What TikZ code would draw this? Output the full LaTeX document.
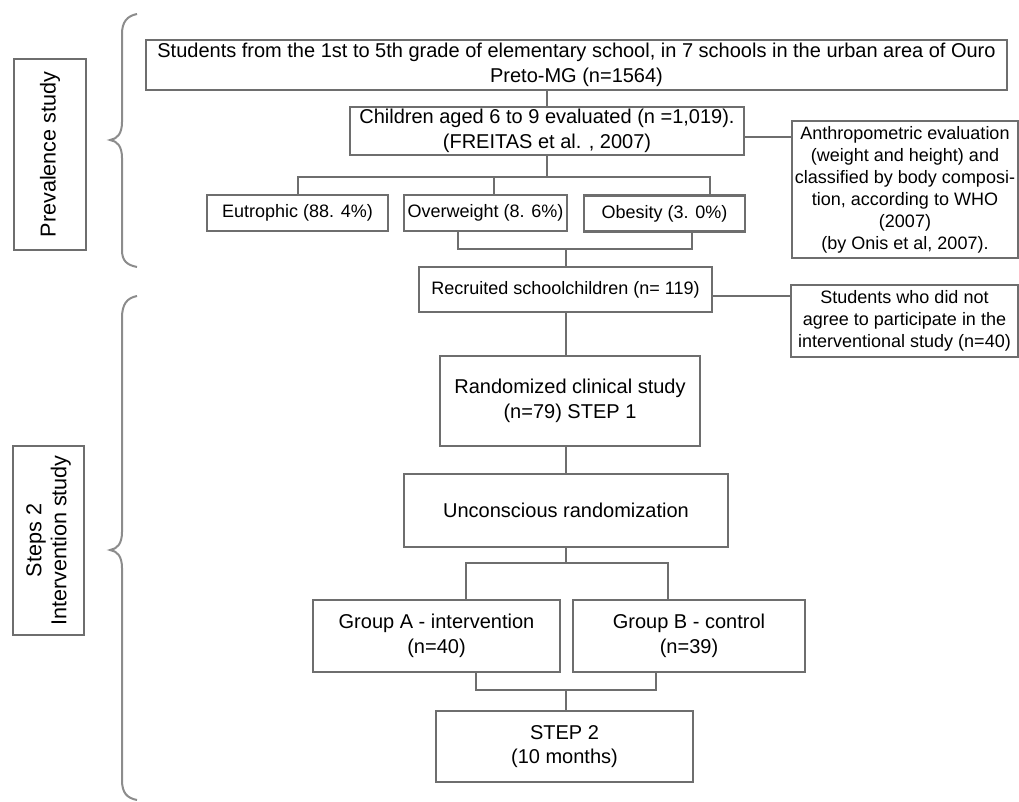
\documentclass[tikz,border=0pt]{standalone}
\usepackage{fontspec}
\setmainfont{Liberation Sans}
\usetikzlibrary{positioning, calc}
\definecolor{edge}{HTML}{6e6e6e}
\definecolor{brc}{HTML}{8c8c8c}

\begin{document}
\begin{tikzpicture}[
  x=0.5pt, y=-0.5pt,
  box/.style={draw=edge, line width=1.2pt, fill=white, align=center, inner sep=1pt,
              font=\fontsize{10}{12.2}\selectfont},
  sbox/.style={box, font=\fontsize{9}{11}\selectfont},
  side/.style={box, rotate=90, font=\fontsize{10.8}{12.5}\selectfont},
  conn/.style={draw=edge, line width=1.2pt},
  curly/.style={draw=brc, line width=1pt}
]
  \useasboundingbox (0,0) rectangle (1019,802);

  % left labels and braces
  \node[side, minimum width=191*0.5pt, minimum height=72*0.5pt] (prev) at (50,154.5) {Prevalence study};
  \node[side, minimum width=189*0.5pt, minimum height=71*0.5pt] (interv) at (48.5,540.5) {Steps 2\\Intervention study};
  \draw[curly] (137,14) .. controls (127,16) and (122,22) .. (122,34) -- (122,122)
    .. controls (122,134) and (117,139) .. (110,140) .. controls (117,141) and (122,146) .. (122,158)
    -- (122,250) .. controls (122,261) and (127,265) .. (137,267);
  \draw[curly] (137,296) .. controls (127,298) and (122,304) .. (122,318) -- (122,532)
    .. controls (122,544) and (117,549) .. (110,550) .. controls (117,551) and (122,556) .. (122,568)
    -- (122,780) .. controls (122,793) and (127,798) .. (137,800);

  % prevalence part
  \node[box, minimum width=861*0.5pt, minimum height=50*0.5pt] (top) at (576.5,65)
    {Students from the 1st to 5th grade of elementary school, in 7 schools in the urban area of Ouro\\Preto-MG (n=1564)};
  \node[box, minimum width=394*0.5pt, minimum height=48*0.5pt] (child) at (547,131)
    {Children aged 6 to 9 evaluated (n =1,019).\\(FREITAS et al. , 2007)};
  \node[sbox, minimum width=181*0.5pt, minimum height=36*0.5pt] (eut) at (297.5,213) {Eutrophic (88. 4\%)};
  \node[sbox, minimum width=163*0.5pt, minimum height=36*0.5pt] (over) at (485.5,213) {Overweight (8. 6\%)};
  \node[sbox, minimum width=161*0.5pt, minimum height=36*0.5pt] (obes) at (664.5,213.5) {Obesity (3. 0\%)};
  \node[sbox, minimum width=226*0.5pt, minimum height=137*0.5pt] (anthro) at (905,189.5)
    {Anthropometric evaluation\\(weight and height) and\\classified by body composi-\\tion, according to WHO\\(2007)\\(by Onis et al, 2007).};

  % intervention part
  \node[sbox, minimum width=293*0.5pt, minimum height=45*0.5pt] (recr) at (565.5,289.5) {Recruited schoolchildren (n= 119)};
  \node[sbox, minimum width=227*0.5pt, minimum height=72*0.5pt] (notag) at (904.5,321)
    {Students who did not\\agree to participate in the\\interventional study (n=40)};
  \node[box, minimum width=260*0.5pt, minimum height=90*0.5pt] (rand) at (570,401)
    {Randomized clinical study\\(n=79) STEP 1};
  \node[box, minimum width=324*0.5pt, minimum height=73*0.5pt] (uncon) at (566,510.5) {Unconscious randomization};
  \node[box, minimum width=247*0.5pt, minimum height=72*0.5pt] (grpa) at (436.5,636)
    {Group A - intervention\\(n=40)};
  \node[box, minimum width=232*0.5pt, minimum height=72*0.5pt] (grpb) at (689,636)
    {Group B - control\\(n=39)};
  \node[box, minimum width=257*0.5pt, minimum height=71*0.5pt] (step) at (564.5,746.5)
    {STEP 2\\(10 months)};

  % junction points
  \coordinate (busl) at (298,177);
  \coordinate (busm) at (494,177);
  \coordinate (busr) at (710,177);
  \coordinate (mrgl) at (458,249);
  \coordinate (mrgr) at (692,249);
  \coordinate (mrgc) at (566,249);
  \coordinate (splc) at (566,563);
  \coordinate (spll) at (466,563);
  \coordinate (splr) at (668,563);
  \coordinate (jnl) at (476,690);
  \coordinate (jnr) at (656,690);
  \coordinate (jnc) at (566,690);

  \draw[conn] (child.north) -- (child.north |- top.south);
  \draw[conn] (child.south) -- (child.south |- busl);
  \draw[conn] (busl |- eut.north) -- (busl) -- (busr) -- (busr |- obes.north);
  \draw[conn] (busm) -- (busm |- over.north);
  \draw[conn] (mrgl |- over.south) -- (mrgl) -- (mrgr) -- (mrgr |- obes.south);
  \draw[conn] (mrgc) -- (mrgc |- recr.north);
  \draw[conn] ($(child.east)+(0,6)$) -- ($(child.east -| anthro.west)+(0,6)$);
  \draw[conn] ($(recr.east)+(0,6.5)$) -- ($(recr.east -| notag.west)+(0,6.5)$);
  \draw[conn] (mrgc |- recr.south) -- (mrgc |- rand.north);
  \draw[conn] (splc |- rand.south) -- (splc |- uncon.north);
  \draw[conn] (splc |- uncon.south) -- (splc);
  \draw[conn] (spll |- grpa.north) -- (spll) -- (splr) -- (splr |- grpb.north);
  \draw[conn] (jnl |- grpa.south) -- (jnl) -- (jnr) -- (jnr |- grpb.south);
  \draw[conn] (jnc) -- (jnc |- step.north);
\end{tikzpicture}
\end{document}
